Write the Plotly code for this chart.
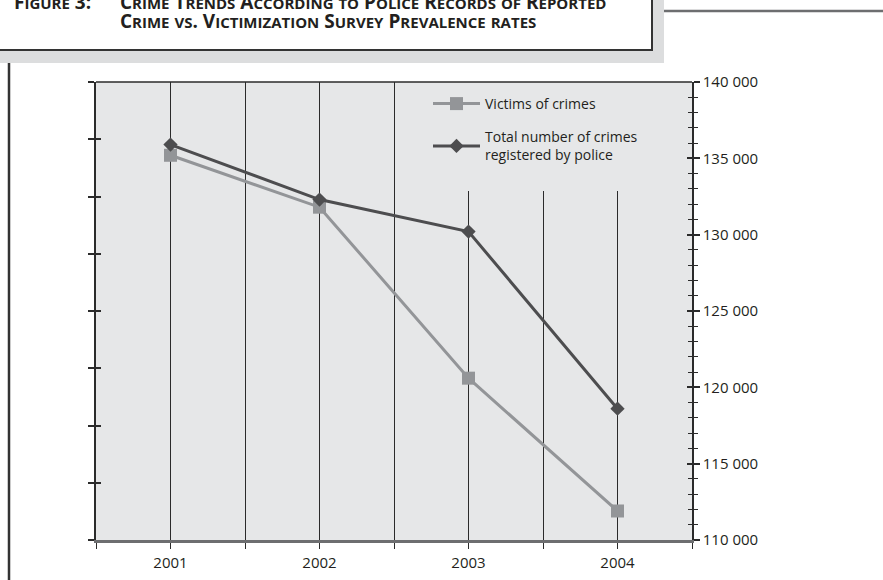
import plotly.graph_objects as go

# ---------------- data ----------------
years = ["2001", "2002", "2003", "2004"]
victims = [135200, 131800, 120600, 111900]
police = [135900, 132300, 130200, 118600]
series_names = ["Victims of crimes", "Total number of crimes<br>registered by police"]
right_ticks = [110000, 115000, 120000, 125000, 130000, 135000, 140000]
right_tick_text = ["110 000", "115 000", "120 000", "125 000", "130 000", "135 000", "140 000"]
title_label = "Figure 3:"
title_line1 = "Crime Trends According to Police Records of Reported"
title_line2 = "Crime vs. Victimization Survey Prevalence rates"

# ---------------- layout helpers ----------------
W, H = 883, 580
L, R, T, B = 96, 692, 82, 540  # plot area in pixels
XR = [-0.5, len(years) - 0.5]
YR = [right_ticks[0], right_ticks[-1]]


def px(xp):
    return (xp - L) / (R - L)


def py(yp):
    return (B - yp) / (B - T)


def small_caps(s, small=15):
    out = []
    buf = ""
    for ch in s:
        if ch.islower():
            buf += ch.upper()
        else:
            if buf:
                out.append(f'<span style="font-size:{small}px">{buf}</span>')
                buf = ""
            out.append(ch)
    if buf:
        out.append(f'<span style="font-size:{small}px">{buf}</span>')
    return "".join(out)


xpos = list(range(len(years)))
tickvals = [i * 0.5 - 0.5 for i in range(2 * len(years) + 1)]
ticktext = [years[int(v)] if float(v).is_integer() else "" for v in tickvals]

DARK = "#4d4d4f"
LIGHT = "#939598"
AXIS = "#2b2b2b"
TEXT = "#231f20"
BG = "#e6e7e8"

fig = go.Figure()

fig.add_trace(go.Scatter(
    x=xpos, y=victims, name=series_names[0], mode="lines+markers",
    line=dict(color=LIGHT, width=3),
    marker=dict(symbol="square", size=13, color=LIGHT),
    legendgroup="a", yaxis="y",
))
fig.add_trace(go.Scatter(
    x=xpos, y=police, name=series_names[1], mode="lines+markers",
    line=dict(color=DARK, width=3),
    marker=dict(symbol="diamond", size=11, color=DARK),
    legendgroup="b", yaxis="y",
))
# empty traces so the extra tick axes are drawn
for ax in ["y2", "y3", "y4"]:
    fig.add_trace(go.Scatter(x=[None], y=[None], yaxis=ax, showlegend=False, hoverinfo="skip"))

tickfont = dict(family="Open Sans", size=15, color=TEXT)

# cover rectangle (legend area hides the gridlines), in data coords of the main subplot
cov_x0 = XR[0] + px(428) * (XR[1] - XR[0])
cov_y0 = YR[0] + py(191) * (YR[1] - YR[0])

fig.update_layout(
    width=W, height=H,
    margin=dict(l=L, r=W - R, t=T, b=H - B, autoexpand=False),
    paper_bgcolor="white", plot_bgcolor=BG,
    showlegend=True,
    legend=dict(
        x=px(428), y=py(88), xanchor="left", yanchor="top",
        bgcolor="rgba(0,0,0,0)", font=dict(family="Open Sans", size=14, color=TEXT),
        traceorder="grouped", tracegroupgap=12, itemwidth=47,
    ),
    xaxis=dict(
        range=XR, tickvals=tickvals, ticktext=ticktext,
        showgrid=True, gridcolor=AXIS, gridwidth=1.2,
        ticks="outside", ticklen=6, tickcolor=AXIS, tickwidth=1.2,
        showline=True, linecolor="#6d6e70", linewidth=2.5,
        zeroline=False, tickfont=tickfont, ticklabelstandoff=1,
    ),
    yaxis=dict(
        side="right", range=YR,
        tickvals=right_ticks, ticktext=right_tick_text,
        ticks="outside", ticklen=6, tickcolor=AXIS, tickwidth=1.5,
        minor=dict(dtick=1000, ticks="outside", ticklen=4, tickcolor=AXIS, tickwidth=1.2, showgrid=False),
        showline=True, linecolor=AXIS, linewidth=1.5,
        showgrid=False, zeroline=False, tickfont=tickfont,
    ),
    yaxis2=dict(
        overlaying="y", side="right", range=YR,
        tickvals=right_ticks, showticklabels=False,
        ticks="inside", ticklen=5, tickcolor=AXIS, tickwidth=1.5,
        minor=dict(dtick=1000, ticks="inside", ticklen=4, tickcolor=AXIS, tickwidth=1.2, showgrid=False),
        showline=False, showgrid=False, zeroline=False,
    ),
    yaxis3=dict(
        overlaying="y", side="left", range=[0, 8], dtick=1, showticklabels=False,
        ticks="outside", ticklen=6, tickcolor=AXIS, tickwidth=1.5,
        showline=True, linecolor=AXIS, linewidth=1.5, showgrid=False, zeroline=False,
    ),
    yaxis4=dict(
        overlaying="y", side="left", range=[0, 8], dtick=1, showticklabels=False,
        ticks="inside", ticklen=5, tickcolor=AXIS, tickwidth=1.5,
        showline=False, showgrid=False, zeroline=False,
    ),
    shapes=[
        dict(type="rect", xref="x", yref="y", x0=cov_x0, x1=XR[1], y0=cov_y0, y1=YR[1],
             fillcolor=BG, line=dict(width=0), layer="between"),
        dict(type="line", xref="paper", yref="paper", x0=0, x1=1, y0=1, y1=1,
             line=dict(color=AXIS, width=1.5), layer="above"),
        dict(type="rect", xref="paper", yref="paper", x0=px(-10), x1=px(664), y0=py(63), y1=py(-10),
             fillcolor="#dcddde", line=dict(width=0), layer="below"),
        dict(type="rect", xref="paper", yref="paper", x0=px(-10), x1=px(652), y0=py(50), y1=py(-10),
             fillcolor="white", line=dict(color="#333333", width=2), layer="below"),
        dict(type="line", xref="paper", yref="paper", x0=px(664), x1=px(890), y0=py(11), y1=py(11),
             line=dict(color="#6d6e70", width=2.5), layer="below"),
        dict(type="line", xref="paper", yref="paper", x0=px(9), x1=px(9), y0=py(63), y1=py(590),
             line=dict(color="#333333", width=2.5), layer="below"),
    ],
    annotations=[
        dict(text=small_caps(title_label), xref="paper", yref="paper", x=px(12), y=py(2),
             xanchor="left", yanchor="middle", showarrow=False,
             font=dict(family="Open Sans", size=19, color=TEXT, weight="bold")),
        dict(text=small_caps(title_line1), xref="paper", yref="paper", x=px(118), y=py(2),
             xanchor="left", yanchor="middle", showarrow=False,
             font=dict(family="Open Sans", size=19, color=TEXT, weight="bold")),
        dict(text=small_caps(title_line2), xref="paper", yref="paper", x=px(118), y=py(21),
             xanchor="left", yanchor="middle", showarrow=False,
             font=dict(family="Open Sans", size=19, color=TEXT, weight="bold")),
    ],
)

fig.write_html(
    "out.html",
    config={"displayModeBar": False},
    post_script="document.body.style.margin='0';document.body.style.overflow='hidden';",
)
